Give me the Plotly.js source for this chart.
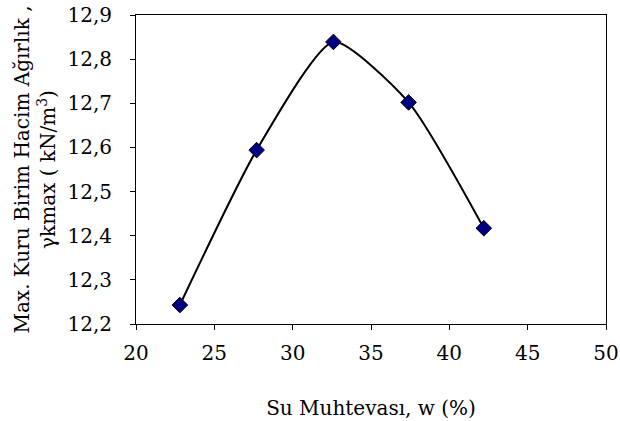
<!DOCTYPE html>
<html>
<head>
<meta charset="utf-8">
<script src="https://cdn.plot.ly/plotly-3.0.1.min.js"></script>
<style>html,body{margin:0;padding:0;background:#fff;}#chart{width:620px;height:421px;}</style>
</head>
<body>
<div id="chart"></div>
<script>
// Data
const waterContent = [22.8, 27.7, 32.6, 37.4, 42.2];          // w (%)
const dryUnitWeight = [12.243, 12.594, 12.839, 12.702, 12.417]; // γkmax (kN/m³)
const xTickVals = [20, 25, 30, 35, 40, 45, 50];
const yTickVals = [12.2, 12.3, 12.4, 12.5, 12.6, 12.7, 12.8, 12.9];

const fontFamily = '"DejaVu Serif", "Liberation Serif", serif';

const trace = {
  x: waterContent,
  y: dryUnitWeight,
  type: 'scatter',
  mode: 'lines+markers',
  line: {shape: 'spline', smoothing: 0.6, color: '#000000', width: 2},
  marker: {symbol: 'diamond', size: 12, color: '#000080', line: {color: '#000000', width: 1}},
  showlegend: false,
  hoverinfo: 'x+y'
};

const layout = {
  width: 620,
  height: 421,
  margin: {l: 136, r: 14, t: 15, b: 97, pad: 0},
  paper_bgcolor: '#ffffff',
  plot_bgcolor: '#ffffff',
  separators: ', ',
  font: {family: fontFamily, size: 20, color: '#000000'},
  xaxis: {
    range: [20, 50],
    tickvals: xTickVals,
    ticks: 'outside', ticklen: 5, tickwidth: 1, tickcolor: '#000',
    showline: true, linecolor: '#000', linewidth: 1, mirror: true,
    showgrid: false, zeroline: false,
    ticklabelstandoff: 6,
    tickfont: {family: fontFamily, size: 20, color: '#000'},
    title: {text: 'Su Muhtevası, w (%)', font: {family: fontFamily, size: 20, color: '#000'}, standoff: 36},
    automargin: false
  },
  yaxis: {
    range: [12.2, 12.9],
    tickvals: yTickVals,
    tickformat: '.1f',
    ticks: 'outside', ticklen: 5, tickwidth: 1, tickcolor: '#000',
    showline: true, linecolor: '#000', linewidth: 1, mirror: true,
    showgrid: false, zeroline: false,
    ticklabelstandoff: 14,
    tickfont: {family: fontFamily, size: 20, color: '#000'},
    title: {text: 'Max. Kuru Birim Hacim Ağırlık ,<br>γkmax ( kN/m<sup>3</sup>)', font: {family: fontFamily, size: 20, color: '#000'}, standoff: 6},
    automargin: false
  }
};

Plotly.newPlot('chart', [trace], layout, {displayModeBar: false, staticPlot: true});
</script>
</body>
</html>
